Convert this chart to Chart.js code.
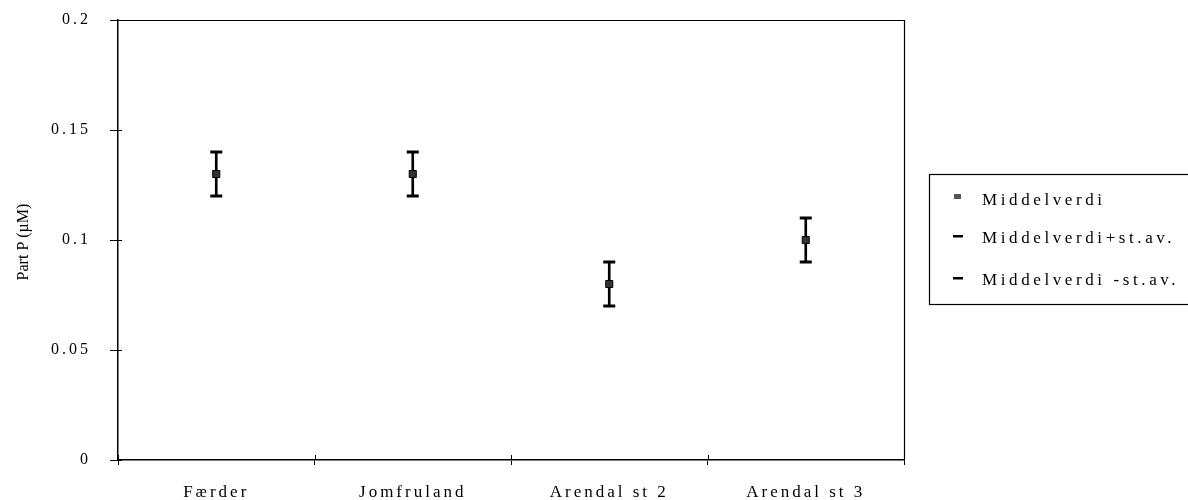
<!DOCTYPE html>
<html>
<head>
<meta charset="utf-8">
<script src="https://cdn.jsdelivr.net/npm/chart.js@4/dist/chart.umd.min.js"></script>
<style>
html,body{margin:0;padding:0;background:#fff;}
#wrap{position:relative;width:1188px;height:500px;}
</style>
</head>
<body>
<div id="wrap"><canvas id="c" width="1188" height="500"></canvas></div>
<script>
const categories = ['Færder', 'Jomfruland', 'Arendal st 2', 'Arendal st 3'];
const meanValues = [0.13, 0.13, 0.08, 0.10];
const plusValues = [0.14, 0.14, 0.09, 0.11];
const minusValues = [0.12, 0.12, 0.07, 0.09];
const yTickLabels = ['0', '0.05', '0.1', '0.15', '0.2'];
const legendLabels = ['Middelverdi', 'Middelverdi+st.av.', 'Middelverdi -st.av.'];
const yTitle = 'Part P (µM)';

const serif = '"Liberation Serif", "Times New Roman", serif';

const framePlugin = {
  id: 'frame',
  beforeDraw(chart) {
    chart.ctx.letterSpacing = '3px';
  },
  afterDraw(chart) {
    const ctx = chart.ctx;
    const a = chart.chartArea;
    ctx.save();
    ctx.letterSpacing = '0px';
    ctx.strokeStyle = '#000';
    ctx.fillStyle = '#000';
    ctx.lineWidth = 1.2;
    ctx.beginPath();
    ctx.moveTo(a.left, a.top + 0.5);
    ctx.lineTo(a.right + 0.5, a.top + 0.5);
    ctx.lineTo(a.right + 0.5, a.bottom);
    ctx.stroke();
    // inner halves of tick marks
    ctx.lineWidth = 1;
    ctx.beginPath();
    const ys = chart.scales.y;
    ys.ticks.forEach((t, i) => {
      const py = Math.round(ys.getPixelForTick(i)) + 0.5;
      ctx.moveTo(a.left, py);
      ctx.lineTo(a.left + 4, py);
    });
    for (let i = 0; i <= categories.length; i++) {
      const px = Math.round(a.left + (a.right - a.left) * i / categories.length) + 0.5;
      ctx.moveTo(px, a.bottom);
      ctx.lineTo(px, a.bottom - 5);
    }
    ctx.stroke();
    // y title
    ctx.save();
    ctx.translate(24, (a.top + a.bottom) / 2 + 2);
    ctx.rotate(-Math.PI / 2);
    ctx.font = '16px ' + serif;
    ctx.textAlign = 'center';
    ctx.textBaseline = 'middle';
    ctx.fillText(yTitle, 0, 0);
    ctx.restore();
    // legend box
    const lx = 929, ly = 174, lw = 270, lh = 130;
    ctx.lineWidth = 1.2;
    ctx.strokeRect(lx + 0.5, ly + 0.5, lw, lh);
    const rows = [205, 243, 285];
    ctx.font = '17px ' + serif;
    ctx.letterSpacing = '3.6px';
    ctx.textBaseline = 'alphabetic';
    rows.forEach((y, i) => {
      if (i === 0) {
        ctx.fillStyle = '#555';
        ctx.fillRect(954, y - 11, 7, 5);
        ctx.fillStyle = '#000';
      } else {
        ctx.fillRect(953, y - 8, 10, 2.5);
      }
      ctx.fillText(legendLabels[i], 982, y);
    });
    ctx.restore();
  }
};

new Chart(document.getElementById('c'), {
  type: 'bar',
  data: {
    labels: categories,
    datasets: [
      {
        type: 'bar',
        label: 'range',
        data: minusValues.map((v, i) => [v, plusValues[i]]),
        backgroundColor: '#000',
        borderWidth: 0,
        barThickness: 2,
        order: 3
      },
      {
        type: 'line',
        label: legendLabels[1],
        data: plusValues,
        showLine: false,
        pointStyle: 'line',
        pointRadius: 6,
        pointBorderWidth: 3,
        pointBorderColor: '#000',
        order: 2
      },
      {
        type: 'line',
        label: legendLabels[2],
        data: minusValues,
        showLine: false,
        pointStyle: 'line',
        pointRadius: 6,
        pointBorderWidth: 3,
        pointBorderColor: '#000',
        order: 2
      },
      {
        type: 'line',
        label: legendLabels[0],
        data: meanValues,
        showLine: false,
        pointStyle: 'rect',
        pointRadius: 5,
        pointBorderWidth: 1,
        pointBorderColor: '#000',
        pointBackgroundColor: '#333',
        order: 1
      }
    ]
  },
  options: {
    responsive: false,
    animation: false,
    events: [],
    layout: { padding: { top: 20, right: 284, bottom: 0, left: 0 } },
    plugins: {
      legend: { display: false },
      tooltip: { enabled: false }
    },
    scales: {
      x: {
        type: 'category',
        offset: true,
        grid: {
          display: true,
          offset: true,
          drawOnChartArea: false,
          drawTicks: true,
          tickLength: 5,
          color: '#000',
          tickColor: '#000',
          tickWidth: 1
        },
        border: { display: true, color: '#000', width: 1.5 },
        ticks: {
          color: '#000',
          font: { family: serif, size: 17 },
          padding: 17
        },
        afterFit(scale) { scale.height = 40; scale.paddingLeft = 0; scale.paddingRight = 0; }
      },
      y: {
        min: 0,
        max: 0.2,
        grid: {
          display: true,
          drawOnChartArea: false,
          drawTicks: true,
          tickLength: 8,
          color: '#000',
          tickColor: '#000',
          tickWidth: 1
        },
        border: { display: true, color: '#000', width: 1.5 },
        ticks: {
          stepSize: 0.05,
          color: '#000',
          font: { family: serif, size: 16 },
          padding: 19,
          callback: (v, i) => yTickLabels[i]
        },
        title: { display: false },
        afterFit(scale) { scale.width = 118; scale.paddingTop = 0; scale.paddingBottom = 0; }
      }
    }
  },
  plugins: [framePlugin]
});
</script>
</body>
</html>
